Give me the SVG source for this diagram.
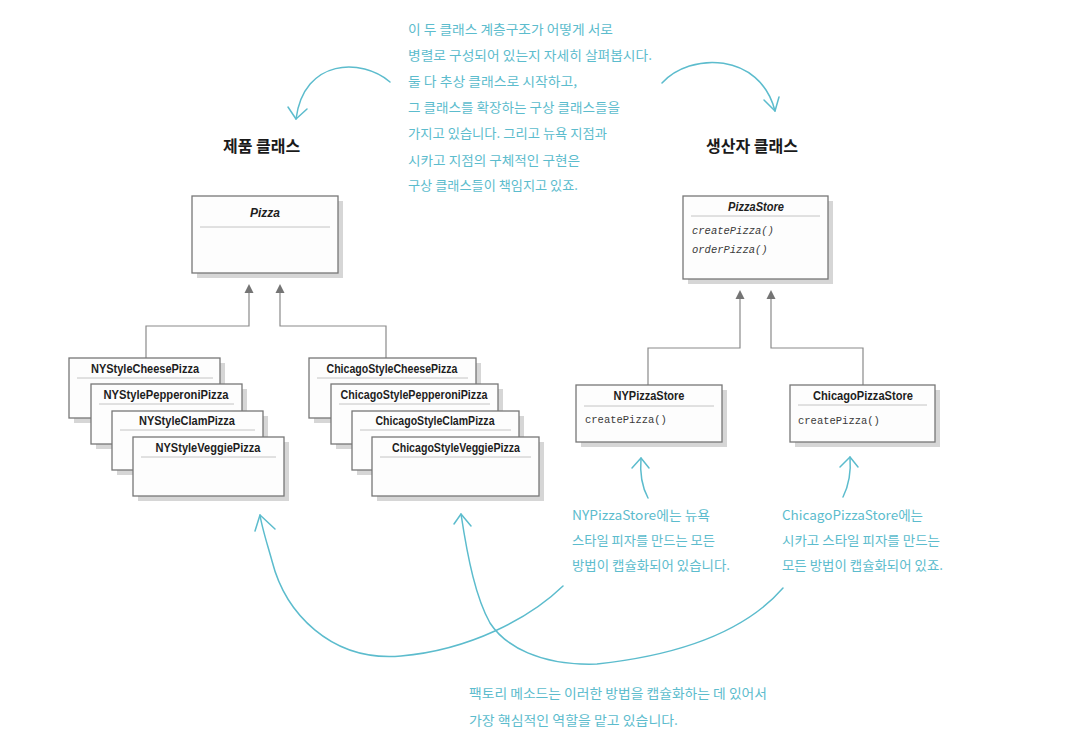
<svg xmlns="http://www.w3.org/2000/svg" width="1070" height="756" viewBox="0 0 1070 756">
<defs>
<style>
.shadow{fill:#d6d6d6}
.box{fill:#fdfdfd;stroke:#777;stroke-width:1.3}
.div{stroke:#c4c4c4;stroke-width:1}
.title{font-family:"Liberation Sans",Arial,sans-serif;font-weight:bold;font-size:12px;fill:#1e1e1e;text-anchor:middle}
.ital{font-style:italic}
.method{font-family:"Liberation Mono","DejaVu Sans Mono",monospace;font-size:10.5px;fill:#3a3a3a}
.conn{fill:none;stroke:#8a8a8a;stroke-width:1.2}
.tri{fill:#747474}
.head{font-family:"Noto Sans CJK KR","Noto Sans",sans-serif;font-weight:bold;font-size:16px;fill:#1a1a1a}
.note{font-family:"Noto Sans CJK KR","Noto Sans",sans-serif;font-size:13px;fill:#5cbccd}
.cy{fill:none;stroke:#5cbccd;stroke-width:1.5;stroke-linecap:round;stroke-linejoin:round}
</style>
</defs>
<rect width="1070" height="756" fill="#ffffff"/>

<!-- Headers -->
<text class="head" x="223" y="152">제품 클래스</text>
<text class="head" x="706" y="152">생산자 클래스</text>

<!-- Top note -->
<g id="note-top">
<text class="note" x="408" y="34" textLength="205" lengthAdjust="spacingAndGlyphs">이 두 클래스 계층구조가 어떻게 서로</text>
<text class="note" x="408" y="60" textLength="244" lengthAdjust="spacingAndGlyphs">병렬로 구성되어 있는지 자세히 살펴봅시다.</text>
<text class="note" x="408" y="86" textLength="169" lengthAdjust="spacingAndGlyphs">둘 다 추상 클래스로 시작하고,</text>
<text class="note" x="408" y="112" textLength="212" lengthAdjust="spacingAndGlyphs">그 클래스를 확장하는 구상 클래스들을</text>
<text class="note" x="408" y="138" textLength="199" lengthAdjust="spacingAndGlyphs">가지고 있습니다. 그리고 뉴욕 지점과</text>
<text class="note" x="408" y="165" textLength="172" lengthAdjust="spacingAndGlyphs">시카고 지점의 구체적인 구현은</text>
<text class="note" x="408" y="190" textLength="170" lengthAdjust="spacingAndGlyphs">구상 클래스들이 책임지고 있죠.</text>
</g>

<!-- UML connectors -->
<g id="connectors">
<path class="conn" d="M249,293 V326 H146 V358"/>
<path class="conn" d="M280,293 V326 H386 V358"/>
<polygon class="tri" points="249,284 244.5,293 253.5,293"/>
<polygon class="tri" points="280,284 275.5,293 284.5,293"/>
<path class="conn" d="M740,299 V348 H648 V385"/>
<path class="conn" d="M771,299 V348 H863 V385"/>
<polygon class="tri" points="740,290 735.5,299 744.5,299"/>
<polygon class="tri" points="771,290 766.5,299 775.5,299"/>
</g>

<!-- Pizza -->
<g id="pizza">
<rect class="shadow" x="197" y="201" width="146" height="77"/>
<rect class="box" x="192" y="196" width="146" height="77"/>
<line class="div" x1="200" y1="227" x2="330" y2="227"/>
<text class="title ital" x="265" y="217">Pizza</text>
</g>

<!-- NY pizzas -->
<g id="ny-cheese">
<rect class="shadow" x="74" y="363" width="151" height="60"/>
<rect class="box" x="69" y="358" width="151" height="60"/>
<line class="div" x1="77" y1="378" x2="213" y2="378"/>
<text class="title" x="145" y="373" textLength="108" lengthAdjust="spacingAndGlyphs">NYStyleCheesePizza</text>
</g>
<g id="ny-pepperoni">
<rect class="shadow" x="96" y="389" width="151" height="60"/>
<rect class="box" x="91" y="384" width="151" height="60"/>
<line class="div" x1="99" y1="404" x2="234" y2="404"/>
<text class="title" x="166" y="399" textLength="125" lengthAdjust="spacingAndGlyphs">NYStylePepperoniPizza</text>
</g>
<g id="ny-clam">
<rect class="shadow" x="117" y="416" width="151" height="59"/>
<rect class="box" x="112" y="411" width="151" height="59"/>
<line class="div" x1="120" y1="430" x2="255" y2="430"/>
<text class="title" x="187" y="425" textLength="96" lengthAdjust="spacingAndGlyphs">NYStyleClamPizza</text>
</g>
<g id="ny-veggie">
<rect class="shadow" x="138" y="442" width="151" height="59"/>
<rect class="box" x="133" y="437" width="151" height="59"/>
<line class="div" x1="141" y1="457" x2="276" y2="457"/>
<text class="title" x="208" y="452" textLength="105" lengthAdjust="spacingAndGlyphs">NYStyleVeggiePizza</text>
</g>

<!-- Chicago pizzas -->
<g id="chicago-cheese">
<rect class="shadow" x="314" y="363" width="167" height="60"/>
<rect class="box" x="309" y="358" width="167" height="60"/>
<line class="div" x1="317" y1="378" x2="468" y2="378"/>
<text class="title" x="392" y="373" textLength="131" lengthAdjust="spacingAndGlyphs">ChicagoStyleCheesePizza</text>
</g>
<g id="chicago-pepperoni">
<rect class="shadow" x="336" y="389" width="167" height="60"/>
<rect class="box" x="331" y="384" width="167" height="60"/>
<line class="div" x1="339" y1="404" x2="490" y2="404"/>
<text class="title" x="414" y="399" textLength="147" lengthAdjust="spacingAndGlyphs">ChicagoStylePepperoniPizza</text>
</g>
<g id="chicago-clam">
<rect class="shadow" x="357" y="416" width="167" height="59"/>
<rect class="box" x="352" y="411" width="167" height="59"/>
<line class="div" x1="360" y1="430" x2="511" y2="430"/>
<text class="title" x="435" y="425" textLength="119" lengthAdjust="spacingAndGlyphs">ChicagoStyleClamPizza</text>
</g>
<g id="chicago-veggie">
<rect class="shadow" x="377" y="442" width="167" height="59"/>
<rect class="box" x="372" y="437" width="167" height="59"/>
<line class="div" x1="380" y1="457" x2="531" y2="457"/>
<text class="title" x="456" y="452" textLength="128" lengthAdjust="spacingAndGlyphs">ChicagoStyleVeggiePizza</text>
</g>

<!-- PizzaStore -->
<g id="pizzastore">
<rect class="shadow" x="688" y="201" width="145" height="83"/>
<rect class="box" x="683" y="196" width="145" height="83"/>
<line class="div" x1="691" y1="216" x2="820" y2="216"/>
<text class="title ital" x="756" y="211" textLength="56" lengthAdjust="spacingAndGlyphs">PizzaStore</text>
<text class="method ital" x="692" y="234">createPizza()</text>
<text class="method ital" x="692" y="253">orderPizza()</text>
</g>

<g id="nypizzastore">
<rect class="shadow" x="581" y="390" width="146" height="57"/>
<rect class="box" x="576" y="385" width="146" height="57"/>
<line class="div" x1="584" y1="406" x2="714" y2="406"/>
<text class="title" x="649" y="400" textLength="71" lengthAdjust="spacingAndGlyphs">NYPizzaStore</text>
<text class="method" x="585" y="423">createPizza()</text>
</g>

<g id="chicagopizzastore">
<rect class="shadow" x="795" y="390" width="145" height="57"/>
<rect class="box" x="790" y="385" width="145" height="57"/>
<line class="div" x1="798" y1="405" x2="927" y2="405"/>
<text class="title" x="863" y="400" textLength="100" lengthAdjust="spacingAndGlyphs">ChicagoPizzaStore</text>
<text class="method" x="798" y="424">createPizza()</text>
</g>

<!-- Notes -->
<g id="note-ny">
<text class="note" x="572" y="520" textLength="138" lengthAdjust="spacingAndGlyphs">NYPizzaStore에는 뉴욕</text>
<text class="note" x="572" y="545" textLength="143" lengthAdjust="spacingAndGlyphs">스타일 피자를 만드는 모든</text>
<text class="note" x="572" y="570" textLength="158" lengthAdjust="spacingAndGlyphs">방법이 캡슐화되어 있습니다.</text>
</g>
<g id="note-chicago">
<text class="note" x="782" y="520" textLength="141" lengthAdjust="spacingAndGlyphs">ChicagoPizzaStore에는</text>
<text class="note" x="782" y="545" textLength="158" lengthAdjust="spacingAndGlyphs">시카고 스타일 피자를 만드는</text>
<text class="note" x="782" y="570" textLength="161" lengthAdjust="spacingAndGlyphs">모든 방법이 캡슐화되어 있죠.</text>
</g>
<g id="note-bottom">
<text class="note" x="469" y="698" textLength="298" lengthAdjust="spacingAndGlyphs">팩토리 메소드는 이러한 방법을 캡슐화하는 데 있어서</text>
<text class="note" x="469" y="725" textLength="209" lengthAdjust="spacingAndGlyphs">가장 핵심적인 역할을 맡고 있습니다.</text>
</g>

<!-- Annotation arrows -->
<g id="annotation-arrows">
<path class="cy" d="M390,82 C362,58 304,58 296,119"/>
<path class="cy" d="M288,107 L296,119 L307,109"/>
<path class="cy" d="M662,83 C690,52 760,52 775,111"/>
<path class="cy" d="M764,100 L775,111 L779,97"/>
<path class="cy" d="M648,498 C641,485 640,470 641,458"/>
<path class="cy" d="M632,468 L641,458 L649,468"/>
<path class="cy" d="M843,497 C849,485 851,470 850,457"/>
<path class="cy" d="M840,467 L850,457 L858,467"/>
<path class="cy" d="M563,586 C530,618 470,650 401,656 C330,662 285,612 272,561 C267,543 262,528 260,515"/>
<path class="cy" d="M255,531 L260,515 L275,529"/>
<path class="cy" d="M783,588 C750,626 690,654 597,664 C540,666 505,646 490,623 C476,598 468,560 461,514"/>
<path class="cy" d="M454,524 L461,514 L471,526"/>
</g>
</svg>
